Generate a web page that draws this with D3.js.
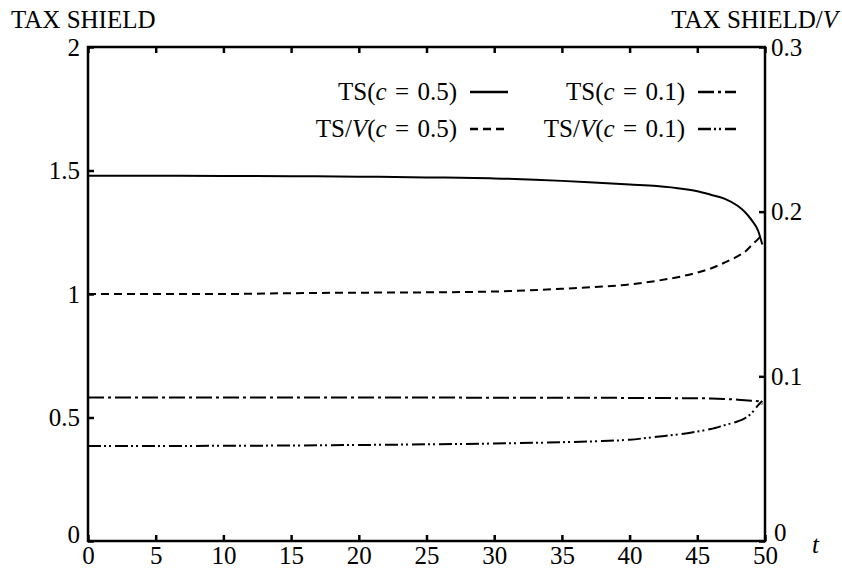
<!DOCTYPE html>
<html>
<head>
<meta charset="utf-8">
<script src="https://cdn.jsdelivr.net/npm/d3@7"></script>
<style>
  body { margin: 0; background: #fff; }
  svg text { font-family: "Liberation Serif", "DejaVu Serif", serif; fill: #000; }
</style>
</head>
<body>
<div id="my_dataviz"></div>
<script>
// time grid (years)
var tValues = [0, 5, 10, 15, 20, 25, 30, 35, 38, 40, 42, 44, 45, 46, 47, 48, 48.5, 49, 49.5, 49.8];

// TS(c = 0.5), left axis
var ts05 = [1.479, 1.479, 1.478, 1.477, 1.475, 1.472, 1.468, 1.458, 1.449, 1.443, 1.437, 1.425, 1.416, 1.402, 1.386, 1.356, 1.333, 1.300, 1.255, 1.200];
// TS/V(c = 0.5), right axis
var tsv05 = [0.150, 0.150, 0.150, 0.1505, 0.1508, 0.151, 0.1515, 0.1532, 0.1545, 0.1558, 0.158, 0.161, 0.163, 0.1655, 0.169, 0.173, 0.1755, 0.1795, 0.1835, 0.186];
// TS(c = 0.1), left axis
var ts01 = [0.581, 0.581, 0.581, 0.581, 0.581, 0.581, 0.580, 0.580, 0.580, 0.579, 0.579, 0.578, 0.578, 0.577, 0.575, 0.572, 0.570, 0.568, 0.566, 0.553];
// TS/V(c = 0.1), right axis
var tsv01 = [0.0577, 0.0577, 0.0578, 0.058, 0.0583, 0.0587, 0.0592, 0.060, 0.0607, 0.0615, 0.0633, 0.0652, 0.0665, 0.068, 0.0703, 0.0727, 0.0745, 0.0775, 0.0825, 0.085];

var xTicks = [0, 5, 10, 15, 20, 25, 30, 35, 40, 45, 50];
var leftTicks = [0, 0.5, 1, 1.5, 2];
var rightTicks = [0, 0.1, 0.2, 0.3];

var FONT = "'Liberation Serif', 'DejaVu Serif', serif";
var FSIZE = "25px";

var div_width = 842, div_height = 569;
var margin = {top: 47, right: 77, bottom: 28, left: 88},
width = div_width - margin.left - margin.right,
height = div_height - margin.top - margin.bottom;

var svg = d3.select("#my_dataviz")
.append("svg")
.attr("width", div_width)
.attr("height", div_height)
.style("display", "block")
.append("g")
.attr("transform", "translate(" + margin.left + "," + margin.top + ")");

var x = d3.scaleLinear().domain([0, 50]).range([0, width]);
var yL = d3.scaleLinear().domain([0, 2]).range([height, 0]);
var yR = d3.scaleLinear().domain([0, 0.3]).range([height, 0]);

// axes, ticks pointing inward
function styleAxis(g) {
    g.attr("font-family", null);
    g.select(".domain").remove();
    g.selectAll(".tick line").attr("stroke", "#000").attr("stroke-width", 2.5);
    g.selectAll(".tick text")
        .attr("fill", "#000")
        .style("font-size", FSIZE)
        .style("font-family", FONT);
}

svg.append("g")
.attr("transform", "translate(0," + height + ")")
.call(d3.axisBottom(x).tickValues(xTicks).tickSizeInner(-6).tickSizeOuter(0).tickPadding(5).tickFormat(d3.format("d")))
.call(styleAxis);

svg.append("g")
.call(d3.axisTop(x).tickValues(xTicks).tickSizeInner(-6).tickSizeOuter(0).tickFormat(""))
.call(styleAxis);

var leftAxis = svg.append("g")
.call(d3.axisLeft(yL).tickValues(leftTicks).tickSizeInner(-6).tickSizeOuter(0).tickPadding(8).tickFormat(function(d){ return String(d); }))
.call(styleAxis);

var rightAxis = svg.append("g")
.attr("transform", "translate(" + width + ",0)")
.call(d3.axisRight(yR).tickValues(rightTicks).tickSizeInner(-6).tickSizeOuter(0).tickPadding(6).tickFormat(function(d){ return String(d); }))
.call(styleAxis);

// lift the corner zeros a little so they clear the t-axis labels
leftAxis.selectAll(".tick text").filter(function(d) { return d === 0; }).attr("dy", "0.05em");
rightAxis.selectAll(".tick text").filter(function(d) { return d === 0; }).attr("dy", "-0.02em").attr("x", 9);

// frame
svg.append("rect")
.attr("x", 0).attr("y", 0)
.attr("width", width).attr("height", height)
.attr("fill", "none")
.attr("stroke", "#000")
.attr("stroke-width", 2.5);

// series
var series = [
    {vals: ts05, y: yL, dash: null},
    {vals: tsv05, y: yR, dash: "8,5"},
    {vals: ts01, y: yL, dash: "16,4,3,4"},
    {vals: tsv01, y: yR, dash: "13,3,2,3,2,4"}
];

series.forEach(function(s) {
    var line = d3.line()
        .x(function(d, i) { return x(tValues[i]); })
        .y(function(d) { return s.y(d); })
        .curve(d3.curveMonotoneX);
    svg.append("path")
        .datum(s.vals)
        .attr("d", line)
        .attr("fill", "none")
        .attr("stroke", "#000")
        .attr("stroke-width", 2)
        .attr("stroke-dasharray", s.dash);
});

// legend
var legend = [
    {name: "TS", over: false, c: "0.5", col: 0, row: 0, dash: null},
    {name: "TS/", over: true, c: "0.5", col: 0, row: 1, dash: "8,5"},
    {name: "TS", over: false, c: "0.1", col: 1, row: 0, dash: "16,4,3,4"},
    {name: "TS/", over: true, c: "0.1", col: 1, row: 1, dash: "13,3,2,3,2,4"}
];
var legX = [369, 597], legY = [45, 82];
legend.forEach(function(l) {
    var lx = legX[l.col], ly = legY[l.row];
    var t = svg.append("text")
        .attr("x", lx).attr("y", ly + 8)
        .attr("text-anchor", "end")
        .style("font-family", FONT)
        .style("font-size", FSIZE);
    t.append("tspan").text(l.name);
    if (l.over) t.append("tspan").style("font-style", "italic").text("V");
    t.append("tspan").text("(");
    t.append("tspan").style("font-style", "italic").text("c");
    t.append("tspan").text("\u2004=\u2004" + l.c + ")");
    svg.append("line")
        .attr("x1", lx + 13).attr("x2", lx + 51)
        .attr("y1", ly).attr("y2", ly)
        .attr("stroke", "#000")
        .attr("stroke-width", 2.5)
        .attr("stroke-dasharray", l.dash);
});

// axis titles
svg.append("text")
.attr("x", 11 - margin.left).attr("y", 28 - margin.top)
.style("font-family", FONT)
.style("font-size", FSIZE)
.text("TAX SHIELD");

var rt = svg.append("text")
.attr("x", 838 - margin.left).attr("y", 28 - margin.top)
.attr("text-anchor", "end")
.style("font-family", FONT)
.style("font-size", FSIZE);
rt.append("tspan").text("TAX SHIELD/");
rt.append("tspan").style("font-style", "italic").text("V");

svg.append("text")
.attr("x", 812 - margin.left).attr("y", 553 - margin.top)
.style("font-family", FONT)
.style("font-size", FSIZE)
.style("font-style", "italic")
.text("t");
</script>
</body>
</html>
